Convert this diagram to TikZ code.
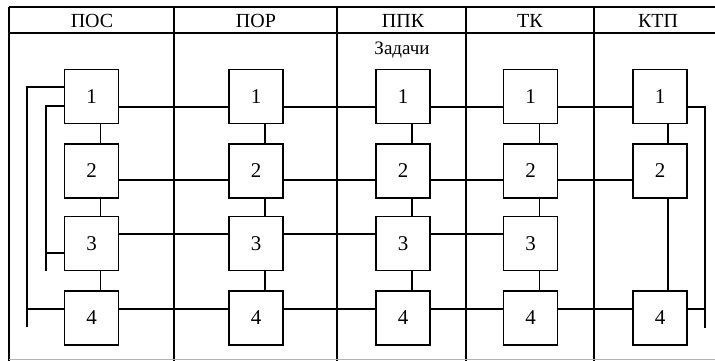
\documentclass[tikz,border=0pt]{standalone}
\usepackage{fontspec}
\setmainfont{Liberation Serif}
\usetikzlibrary{calc}
\begin{document}
\begin{tikzpicture}[x=1pt,y=-1pt,
  line width=1.9pt,
  frameline/.style={line width=1.5pt},
  taskbox/.style={draw,rectangle,minimum width=54pt,minimum height=54pt,inner sep=0pt,font=\fontsize{21}{21}\selectfont},
  head/.style={font=\fontsize{20}{20}\selectfont,inner sep=0pt},
  link/.style={line width=1.9pt}]
\useasboundingbox (0,0) rectangle (715,361);
% frame
\draw[frameline] (9,7) -- (715,7);
\draw[frameline] (9,33) -- (715,33);
\draw[frameline] (9,7) -- (9,361);
\foreach \x in {174,337,466,594} \draw[frameline] (\x,7) -- (\x,361);
\draw[line width=0.8pt,gray!60] (9,359) -- (715,359);
% headers
\node[head] (hA) at (92,21) {ПОС};
\node[head] (hB) at (256,21) {ПОР};
\node[head] (hC) at (403,21) {ППК};
\node[head] (hD) at (530,21) {ТК};
\node[head] (hE) at (658,21) {КТП};
\node[head,font=\fontsize{19}{19}\selectfont] (zad) at (402,50) {Задачи};
% boxes
\foreach \c/\x in {A/91.5,B/256,C/403,D/530.5,E/660}{
  \node[taskbox] (\c1) at (\x,96.5) {1};
  \node[taskbox] (\c2) at (\x,171) {2};
  \node[taskbox] (\c4) at (\x,318) {4};
}
\foreach \c/\x in {A/91.5,B/256,C/403,D/530.5}{
  \node[taskbox] (\c3) at (\x,243.5) {3};
}
% row levels
\coordinate (r1) at (0,107);
\coordinate (r2) at (0,180);
\coordinate (r3) at (0,234);
\coordinate (r4) at (0,309);
% vertical links
\foreach \c in {A,B,C,D}{
  \draw[link] ($(\c1.south)+(9,0)$) -- ($(\c2.north)+(9,0)$);
  \draw[link] ($(\c2.south)+(9,0)$) -- ($(\c3.north)+(9,0)$);
  \draw[link] ($(\c3.south)+(9,0)$) -- ($(\c4.north)+(9,0)$);
}
\draw[link] ($(E1.south)+(8,0)$) -- ($(E2.north)+(8,0)$);
\draw[link] ($(E2.south)+(8,0)$) -- ($(E4.north)+(8,0)$);
% horizontal links
\foreach \a/\b in {A/B,B/C,C/D,D/E}{
  \draw[link] (\a1.east |- r1) -- (\b1.west |- r1);
  \draw[link] (\a2.east |- r2) -- (\b2.west |- r2);
  \draw[link] (\a4.east |- r4) -- (\b4.west |- r4);
}
\foreach \a/\b in {A/B,B/C,C/D}{
  \draw[link] (\a3.east |- r3) -- (\b3.west |- r3);
}
% left feedback lines in POS
\coordinate (lt1) at (27,87);
\coordinate (lb1) at (27,327);
\coordinate (lt2) at (46,106);
\coordinate (lb2) at (46,271);
\draw[link] (A1.west |- lt1) -- (lt1) -- (lb1);
\draw[link] (A4.west |- r4) -- (lb1 |- r4);
\draw[link] (A1.west |- lt2) -- (lt2) -- (lb2);
\draw[link] (A3.west |- 0,253) -- (46,253);
% right feedback line in KTP
\coordinate (rt) at (705,107);
\coordinate (rb) at (705,328);
\draw[link] (E1.east |- rt) -- (rt) -- (rb);
\draw[link] (E4.east |- r4) -- (rb |- r4);
\end{tikzpicture}
\end{document}
